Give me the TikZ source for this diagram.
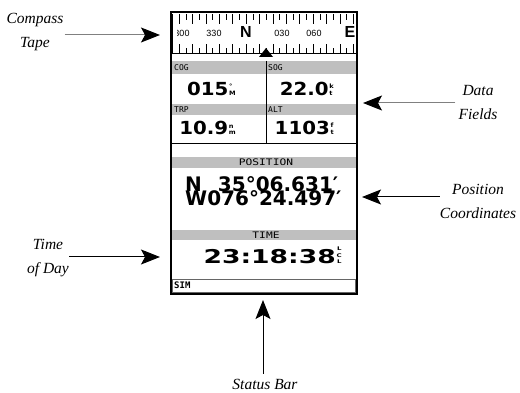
\documentclass[tikz,border=0pt]{standalone}
\usepackage{fontspec}
\usetikzlibrary{arrows.meta}
\setmainfont{Liberation Serif}
\newfontfamily\lcdfont[FakeStretch=1.1]{DejaVu Sans}
\newfontfamily\lcdnarrow{DejaVu Sans}
\newfontfamily\lcdwide[FakeStretch=1.4]{DejaVu Sans}
\newfontfamily\dialfont{Liberation Sans}
\newfontfamily\pixfont{DejaVu Sans Mono}
\newfontfamily\widepixfont[FakeStretch=1.25]{DejaVu Sans Mono}
\newcommand{\unitstack}[2]{\kern0.8pt{\fontsize{6}{6}\selectfont\shortstack[l]{#1\\#2}}}

\begin{document}
\begin{tikzpicture}[x=1pt, y=-1pt,
  callout/.style={font={\fontsize{15.5}{24}\selectfont\itshape}, align=center, inner sep=0pt},
  pointer/.style={-{Stealth[length=19pt, width=15pt, inset=4pt, color=black]}, line width=1pt},
  band/.style={fill=black!25},
  fieldlbl/.style={font={\pixfont\fontsize{8}{8}\selectfont}, inner sep=0pt, anchor=west},
  bandlbl/.style={font={\widepixfont\fontsize{9}{9}\selectfont}, inner sep=0pt},
  bigval/.style={font={\lcdfont\bfseries\fontsize{18}{18}\selectfont}, inner sep=0pt, anchor=base east},
  coordval/.style={font={\lcdnarrow\bfseries\fontsize{20}{20}\selectfont}, inner sep=0pt, anchor=base west},
  dial/.style={font={\dialfont\fontsize{9}{9}\selectfont}, inner sep=0pt},
  dialbig/.style={font={\dialfont\bfseries\fontsize{16}{16}\selectfont}, inner sep=0pt}]
  \useasboundingbox (0,0) rectangle (520,393);

  % 屏幕外框
  \draw[line width=1.2pt] (171,12) rectangle (357,294);

  % 罗盘刻度带
  \begin{scope}
    \clip (177,14) rectangle (356,56);
    \foreach \i in {-10,-8,...,16} {
      \draw ({246+\i*6.7},14) -- ++(0,10);
      \draw ({246+\i*6.7},53) -- ++(0,-9);
    }
    \foreach \i in {-11,-9,...,15} {
      \draw ({246+\i*6.7},14) -- ++(0,6);
      \draw ({246+\i*6.7},53) -- ++(0,-5);
    }
    \node[dial]    (h300) at (182,33) {300};
    \node[dial]    (h330) at (214,33) {330};
    \node[dialbig] (hN)   at (246,32) {N};
    \node[dial]    (h030) at (282,33) {030};
    \node[dial]    (h060) at (314,33) {060};
    \node[dialbig] (hE)   at (350,32) {E};
  \end{scope}
  \draw (172,14) -- (172,53);
  \draw (172,53) -- (356,53);
  \fill (266,48) -- (273,57) -- (259,57) -- cycle;

  % 数据栏
  \fill[band] (172,61) rectangle (356,74);
  \fill[band] (172,104) rectangle (356,115);
  \draw (266,61) -- (266,143);
  \draw (172,143) -- (356,143);
  \node[fieldlbl] (cog) at (174,68)  {COG};
  \node[fieldlbl] (sog) at (268,68)  {SOG};
  \node[fieldlbl] (trp) at (174,110) {TRP};
  \node[fieldlbl] (alt) at (268,110) {ALT};
  \node[bigval] (cogval) at (236,96)  {015\unitstack{°}{M}};
  \node[bigval] (sogval) at (334,96)  {22.0\unitstack{k}{t}};
  \node[bigval] (trpval) at (236,135) {10.9\unitstack{n}{m}};
  \node[bigval] (altval) at (334,135) {1103\unitstack{f}{t}};

  % 位置
  \fill[band] (172,157) rectangle (356,168);
  \node[bandlbl] (poshead) at (266,162.5) {POSITION};
  \node[coordval] (lat) at (185,192) {N\hspace{16pt}35°06.631′};
  \node[coordval] (lon) at (185,206) {W076°24.497′};

  % 时间
  \fill[band] (172,230) rectangle (356,240);
  \node[bandlbl] (timehead) at (266,235) {TIME};
  \node[font={\lcdwide\bfseries\fontsize{19}{19}\selectfont}, inner sep=0pt, anchor=base east] (clock) at (342,264)
    {23:18:38\kern0.8pt{\fontsize{5}{4.5}\selectfont\shortstack{L\\C\\L}}};

  % 状态栏
  \draw[black!60, line width=1pt] (172,279) rectangle (355,292);
  \node[font={\pixfont\bfseries\fontsize{9}{9}\selectfont}, inner sep=0pt, anchor=west] (sim) at (174,285.5) {SIM};

  % 说明文字与箭头
  \node[callout] (compasslbl) at (35,32) {Compass\\Tape};
  \coordinate (compasstip) at (160,35);
  \draw[pointer, black!50] ([xshift=1pt]compasslbl.east |- compasstip) -- (compasstip);

  \node[callout] (datalbl) at (478,103) {Data\\Fields};
  \coordinate (datatip) at (363,103);
  \draw[pointer, black!50] ([xshift=-3pt]datalbl.west |- datatip) -- (datatip);

  \node[callout] (poslbl) at (478,201) {Position\\Coordinates};
  \coordinate (postip) at (362,197);
  \draw[pointer] (poslbl.west |- postip) -- (postip);

  \node[callout] (timelbl) at (48,258) {Time\\of Day};
  \coordinate (timetip) at (160,257);
  \draw[pointer] (timelbl.east |- timetip) -- (timetip);

  \node[callout, anchor=base] (statuslbl) at (265,389) {Status Bar};
  \coordinate (statustip) at (263,300);
  \draw[pointer] ([yshift=5pt]statuslbl.north -| statustip) -- (statustip);
\end{tikzpicture}
\end{document}
